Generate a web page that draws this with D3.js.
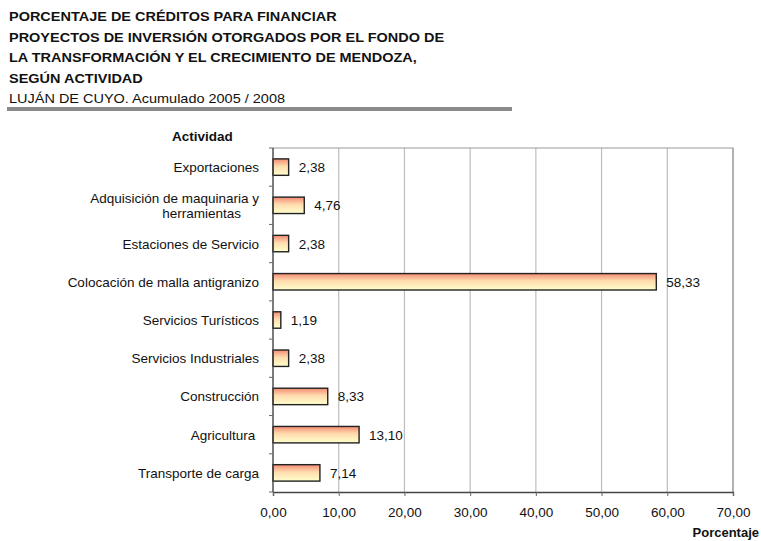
<!DOCTYPE html>
<html>
<head>
<meta charset="utf-8">
<script src="https://cdn.jsdelivr.net/npm/d3@7"></script>
<style>
  body { margin: 0; background: #fff; }
  svg { font-family: "Liberation Sans", Arial, sans-serif; }
</style>
</head>
<body>
<div id="chart"></div>
<script>
// data
const titleLines = [
  "PORCENTAJE DE CRÉDITOS PARA FINANCIAR",
  "PROYECTOS DE INVERSIÓN OTORGADOS POR EL FONDO DE",
  "LA TRANSFORMACIÓN Y EL CRECIMIENTO DE MENDOZA,",
  "SEGÚN ACTIVIDAD"
];
const subtitle = "LUJÁN DE CUYO. Acumulado 2005 / 2008";

const categories = [
  ["Exportaciones"],
  ["Adquisición de maquinaria y", "herramientas"],
  ["Estaciones de Servicio"],
  ["Colocación de malla antigranizo"],
  ["Servicios Turísticos"],
  ["Servicios Industriales"],
  ["Construcción"],
  ["Agricultura "],
  ["Transporte de carga"]
];
const values = [2.38, 4.76, 2.38, 58.33, 1.19, 2.38, 8.33, 13.10, 7.14];
const xTicks = [0, 10, 20, 30, 40, 50, 60, 70];

const W = 761, H = 541;
const plot = {left: 273, right: 733, top: 148, bottom: 492};
const fs = "13.5px";

const loc = d3.formatLocale({decimal: ",", thousands: ".", grouping: [3], currency: ["$", ""]});
const fmt = loc.format(".2f");

const svg = d3.select("#chart").append("svg")
  .attr("width", W).attr("height", H);

// gradient for the bars
const grad = svg.append("defs").append("linearGradient")
  .attr("id", "barGrad").attr("x1", 0).attr("y1", 0).attr("x2", 0).attr("y2", 1);
grad.append("stop").attr("offset", "0%").attr("stop-color", "#f48a72");
grad.append("stop").attr("offset", "45%").attr("stop-color", "#ffdcae");
grad.append("stop").attr("offset", "100%").attr("stop-color", "#ffffcc");

// title block (the original type is a bit wide, so stretch it)
const head = svg.append("g").attr("transform", "translate(9,0) scale(1.115,1)");
head.selectAll("text.t")
  .data(titleLines)
  .join("text")
  .attr("class", "t")
  .attr("x", 0)
  .attr("y", (d, i) => 21 + i * 20.6)
  .attr("font-size", "13px")
  .attr("font-weight", "bold")
  .attr("fill", "#111")
  .text(d => d);

head.append("text")
  .attr("x", 0).attr("y", 103)
  .attr("font-size", "13px")
  .attr("fill", "#111")
  .text(subtitle);

svg.append("rect")
  .attr("x", 7).attr("y", 107)
  .attr("width", 505).attr("height", 4)
  .attr("fill", "#8a8a8a");

// scales
const x = d3.scaleLinear().domain([0, 70]).range([plot.left, plot.right]);
const y = d3.scaleBand()
  .domain(d3.range(categories.length))
  .range([plot.top, plot.bottom])
  .paddingInner(0.57).paddingOuter(0.285);

// gridlines
svg.append("g").selectAll("line")
  .data(xTicks.slice(1))
  .join("line")
  .attr("x1", d => x(d)).attr("x2", d => x(d))
  .attr("y1", plot.top).attr("y2", plot.bottom)
  .attr("stroke", "#bdbdbd").attr("stroke-width", 1.2);

// frame top / right
svg.append("path")
  .attr("d", `M${plot.left},${plot.top}H${plot.right}V${plot.bottom}`)
  .attr("fill", "none").attr("stroke", "#9a9a9a").attr("stroke-width", 1.2);

// bars
svg.append("g").selectAll("rect")
  .data(values)
  .join("rect")
  .attr("x", x(0))
  .attr("y", (d, i) => y(i))
  .attr("width", d => x(d) - x(0))
  .attr("height", y.bandwidth())
  .attr("fill", "url(#barGrad)")
  .attr("stroke", "#222").attr("stroke-width", 1.4);

// value labels
svg.append("g").selectAll("text")
  .data(values)
  .join("text")
  .attr("x", d => x(d) + 10)
  .attr("y", (d, i) => y(i) + y.bandwidth() / 2 + 5)
  .attr("font-size", fs)
  .attr("fill", "#111")
  .text(d => fmt(d));

// x axis
const xAxis = svg.append("g")
  .attr("transform", `translate(0,${plot.bottom})`)
  .call(d3.axisBottom(x).tickValues(xTicks).tickFormat(fmt).tickSize(4).tickPadding(11.5));
xAxis.select(".domain").attr("stroke", "#444").attr("stroke-width", 1.4);
xAxis.selectAll(".tick line").attr("stroke", "#666");
xAxis.selectAll(".tick text")
  .attr("font-size", fs).attr("fill", "#111")
  .attr("font-family", "Liberation Sans, Arial, sans-serif");

// y axis: line plus ticks at the band boundaries
svg.append("line")
  .attr("x1", plot.left).attr("x2", plot.left)
  .attr("y1", plot.top).attr("y2", plot.bottom)
  .attr("stroke", "#444").attr("stroke-width", 1.4);
const step = y.step();
svg.append("g").selectAll("line")
  .data(d3.range(categories.length + 1))
  .join("line")
  .attr("x1", plot.left - 4).attr("x2", plot.left)
  .attr("y1", i => plot.top + i * step).attr("y2", i => plot.top + i * step)
  .attr("stroke", "#666");

// category labels
const catG = svg.append("g").selectAll("text")
  .data(categories)
  .join("text")
  .attr("text-anchor", "end")
  .attr("font-size", fs)
  .attr("fill", "#111")
  .style("white-space", "pre")
  .attr("y", (d, i) => y(i) + y.bandwidth() / 2 + 5);
catG.selectAll("tspan")
  .data(d => d.map((t, j) => ({t, j, n: d.length})))
  .join("tspan")
  .attr("x", d => d.j === 0 ? 259 : 241)
  .attr("dy", d => d.n > 1 ? (d.j === 0 ? -7.5 : 15) : 0)
  .text(d => d.t);

// axis titles
svg.append("text")
  .attr("x", 172).attr("y", 141)
  .attr("font-size", fs).attr("font-weight", "bold")
  .attr("fill", "#111")
  .text("Actividad");

svg.append("text")
  .attr("x", 759).attr("y", 537)
  .attr("text-anchor", "end")
  .attr("font-size", "13px").attr("font-weight", "bold")
  .attr("fill", "#111")
  .text("Porcentaje");
</script>
</body>
</html>
